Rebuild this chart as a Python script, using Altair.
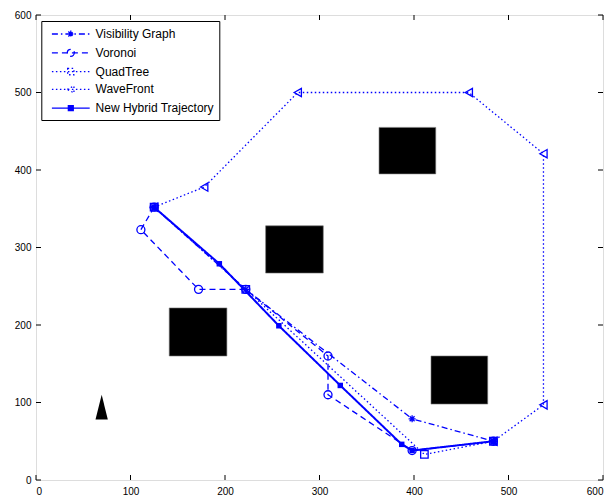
import altair as alt
import pandas as pd

# ---------------- data ----------------
series_names = ["Visibility Graph", "Voronoi", "QuadTree", "WaveFront", "New Hybrid Trajectory"]

vg_x = [125, 222, 398, 484]
vg_y = [352, 246, 79, 50]
vor_x = [125, 111, 172, 222, 309, 309, 398, 484]
vor_y = [352, 323, 246, 246, 160, 110, 38, 50]
qt_x = [125, 222, 411, 484]
qt_y = [352, 246, 33, 50]
wf_x = [125, 178, 277, 458, 537, 537, 484]
wf_y = [352, 378, 500, 500, 421, 97, 50]
nh_x = [125, 194, 257, 322, 387, 398, 484]
nh_y = [352, 279, 199, 122, 46, 38, 50]

obs_x1 = [363, 243, 141, 418]
obs_x2 = [423, 304, 202, 478]
obs_y1 = [395, 267, 160, 98]
obs_y2 = [455, 328, 222, 160]

robot_x = [63, 69.5, 76]
robot_top = [78, 110, 78]
robot_base = [78, 78, 78]

tick_values = [0, 100, 200, 300, 400, 500, 600]

# ---------------- styles ----------------
BLUE = "#0000ff"
W, H = 567, 465
FONT = "Liberation Sans"

dash_dot = [6, 3, 1.5, 3]
dashed = [6, 4]
dotted = [1.5, 2.5]
solid = [1, 0]

asterisk = "M0,-1V1M-1,0H1M-0.7,-0.7L0.7,0.7M-0.7,0.7L0.7,-0.7"

styles = {
    "Visibility Graph": dict(xs=vg_x, ys=vg_y, dash=dash_dot, shape=asterisk, size=49, filled=False, sw=1.3),
    "Voronoi": dict(xs=vor_x, ys=vor_y, dash=dashed, shape="circle", size=64, filled=False, sw=1.3),
    "QuadTree": dict(xs=qt_x, ys=qt_y, dash=dotted, shape="square", size=56, filled=False, sw=1.3),
    "WaveFront": dict(xs=wf_x, ys=wf_y, dash=dotted, shape="triangle-left", size=70, filled=False, sw=1.3),
    "New Hybrid Trajectory": dict(xs=nh_x, ys=nh_y, dash=solid, shape="square", size=30, filled=True, sw=2),
}

xscale = alt.Scale(domain=[0, 600], nice=False, zero=False)
yscale = alt.Scale(domain=[0, 600], nice=False, zero=False)

X = lambda f="x": alt.X(f"{f}:Q", scale=xscale, title=None,
                        axis=alt.Axis(values=tick_values, labelPadding=6, grid=False,
                                      domain=False, ticks=False))
Y = lambda f="y": alt.Y(f"{f}:Q", scale=yscale, title=None,
                        axis=alt.Axis(values=tick_values, labelPadding=5, grid=False,
                                      domain=False, ticks=False))

layers = []

# obstacles
obs_df = pd.DataFrame({"x": obs_x1, "x2": obs_x2, "y": obs_y1, "y2": obs_y2})
layers.append(
    alt.Chart(obs_df).mark_rect(color="black", stroke="#777777", strokeWidth=0.6)
    .encode(x=X(), x2="x2:Q", y=Y(), y2="y2:Q")
)

# robot triangle
robot_df = pd.DataFrame({"x": robot_x, "y": robot_top, "y2": robot_base})
layers.append(
    alt.Chart(robot_df).mark_area(color="black", interpolate="linear")
    .encode(x=X(), y=Y(), y2="y2:Q")
)

# trajectories
for name in series_names:
    s = styles[name]
    df = pd.DataFrame({"x": s["xs"], "y": s["ys"], "i": list(range(len(s["xs"])))})
    layers.append(
        alt.Chart(df).mark_line(color=BLUE, strokeDash=s["dash"], strokeWidth=s["sw"])
        .encode(x=X(), y=Y(), order="i:Q")
    )
for name in series_names:
    s = styles[name]
    df = pd.DataFrame({"x": s["xs"], "y": s["ys"]})
    layers.append(
        alt.Chart(df).mark_point(shape=s["shape"], size=s["size"], filled=s["filled"],
                                 color=BLUE, strokeWidth=1.3, opacity=1)
        .encode(x=X(), y=Y())
    )

# legend (hidden, clipped layer that only carries the legend scales)
line_part = "M-2.7,0H2.7"
legend_paths = [
    line_part + "M0,-0.5V0.5M-0.5,0H0.5M-0.35,-0.35L0.35,0.35M-0.35,0.35L0.35,-0.35",
    line_part + "M0.5,0A0.5,0.5 0 1,1 -0.5,0A0.5,0.5 0 1,1 0.5,0Z",
    line_part + "M-0.45,-0.45H0.45V0.45H-0.45Z",
    line_part + "M-0.5,0L0.45,-0.5V0.5Z",
    line_part + "M-0.35,-0.35H0.35V0.35H-0.35Z",
]
legend_dashes = [dash_dot, dashed, dotted, dotted, solid]
legend_fills = ["transparent", "transparent", "transparent", "transparent", BLUE]
legend_strokes = [BLUE] * 5

leg_df = pd.DataFrame({"series": series_names, "x": [-100] * 5, "y": [-100] * 5})
legend = alt.Legend(
    title=None, orient="none", legendX=5.3, legendY=6,
    padding=5, symbolSize=196, symbolOffset=16.5, labelOffset=16.75,
    rowPadding=3.8, labelFont=FONT, labelFontSize=12, labelColor="black",
    strokeColor="black", fillColor="white",
    symbolStrokeWidth=1.3, symbolOpacity=1, labelLimit=300,
)
layers.append(
    alt.Chart(leg_df).mark_point(color=BLUE, clip=True, strokeWidth=1.3)
    .encode(
        x=X(), y=Y(),
        shape=alt.Shape("series:N", scale=alt.Scale(domain=series_names, range=legend_paths), legend=legend),
        strokeDash=alt.StrokeDash("series:N", scale=alt.Scale(domain=series_names, range=legend_dashes), legend=legend),
        fill=alt.Fill("series:N", scale=alt.Scale(domain=series_names, range=legend_fills), legend=legend),
        stroke=alt.Stroke("series:N", scale=alt.Scale(domain=series_names, range=legend_strokes), legend=legend),
    )
)

# inward ticks (MATLAB style box)
tx = pd.DataFrame({"x": tick_values})
ty = pd.DataFrame({"y": tick_values})
layers.append(alt.Chart(tx).mark_rule(color="black", strokeWidth=1)
              .encode(x=X(), y=alt.value(H), y2=alt.value(H - 5)))
layers.append(alt.Chart(tx).mark_rule(color="black", strokeWidth=1)
              .encode(x=X(), y=alt.value(0), y2=alt.value(5)))
layers.append(alt.Chart(ty).mark_rule(color="black", strokeWidth=1)
              .encode(y=Y(), x=alt.value(0), x2=alt.value(5)))
layers.append(alt.Chart(ty).mark_rule(color="black", strokeWidth=1)
              .encode(y=Y(), x=alt.value(W), x2=alt.value(W - 5)))

chart = (
    alt.layer(*layers)
    .properties(width=W, height=H, autosize=alt.AutoSizeParams(type="none"),
                padding={"left": 36, "top": 15, "right": 8, "bottom": 24})
    .configure_view(stroke="black", strokeWidth=1)
    .configure_axis(grid=False, domain=False, ticks=False, tickSize=0,
                    labelFont=FONT, labelFontSize=12, labelColor="black")
    .configure(background="white")
)

chart.save("out.html", embed_options={"renderer": "svg", "actions": False})
